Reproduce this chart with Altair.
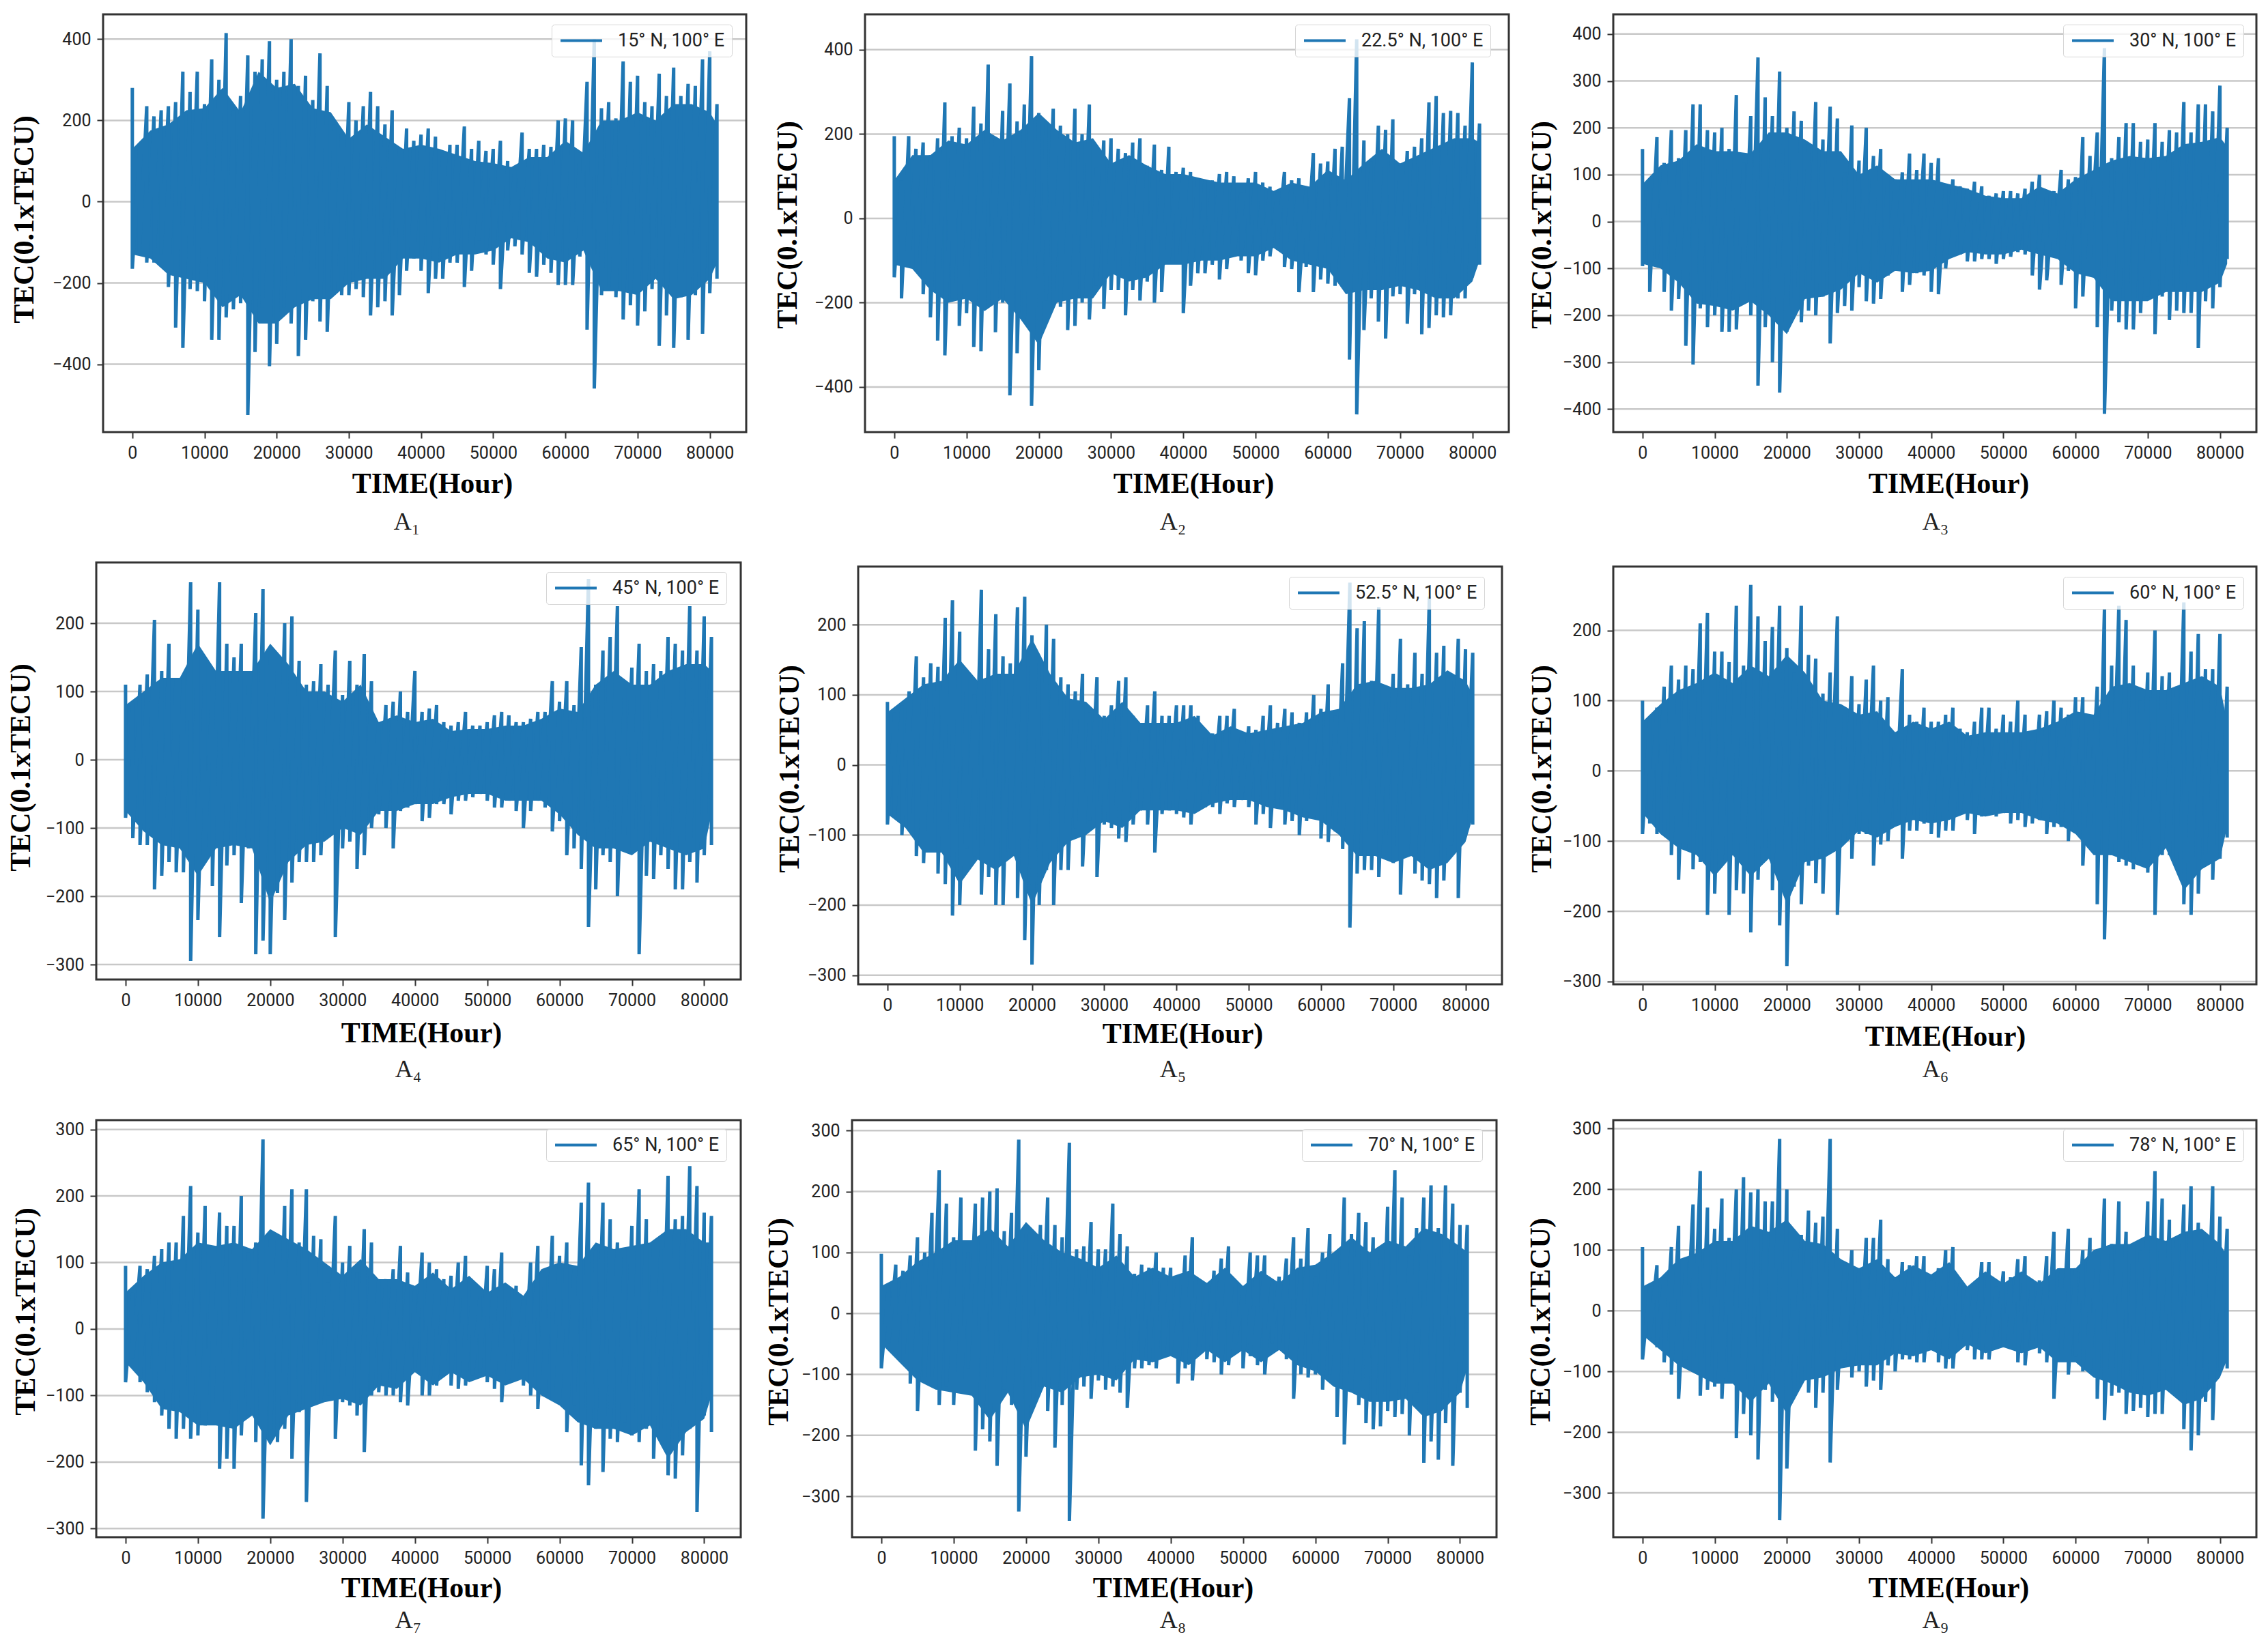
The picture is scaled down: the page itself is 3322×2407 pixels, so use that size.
import altair as alt
import pandas as pd

LABELS = ["15° N, 100° E", "22.5° N, 100° E", "30° N, 100° E", "45° N, 100° E", "52.5° N, 100° E",
          "60° N, 100° E", "65° N, 100° E", "70° N, 100° E", "78° N, 100° E"]
CAPTIONS = ["A₁", "A₂", "A₃", "A₄", "A₅", "A₆", "A₇", "A₈", "A₉"]
X_TICKS = [0, 10000, 20000, 30000, 40000, 50000, 60000, 70000, 80000]
Y_TICKS = [
    [-400, -200, 0, 200, 400], [-400, -200, 0, 200, 400],
    [-400, -300, -200, -100, 0, 100, 200, 300, 400],
    [-300, -200, -100, 0, 100, 200], [-300, -200, -100, 0, 100, 200], [-300, -200, -100, 0, 100, 200],
    [-300, -200, -100, 0, 100, 200, 300], [-300, -200, -100, 0, 100, 200, 300], [-300, -200, -100, 0, 100, 200, 300],
]
Y_DOMAIN = [(-567, 461), (-507, 484), (-449, 442), (-322, 289), (-313, 283), (-304, 291), (-313, 314), (-367, 317), (-373, 314)]
X_DOMAIN = (-4050, 85050)

# upper and lower envelope read every 1000 hours (0 .. 81000)
UP = [
 [280,130,235,210,225,235,245,320,270,320,240,350,300,415,225,260,360,320,350,395,300,320,400,285,310,250,365,285,190,165,245,200,235,270,235,190,225,130,180,150,165,180,160,110,140,140,185,130,150,125,130,150,100,80,170,130,130,140,135,200,205,200,120,295,400,230,245,205,345,295,310,245,235,315,260,330,260,290,285,350,370,240],
 [195,90,195,165,180,150,190,275,195,215,190,265,225,365,190,255,320,230,270,385,250,230,260,220,200,260,200,270,120,185,190,165,155,180,190,125,175,115,170,110,120,110,95,90,90,105,110,100,60,95,110,85,75,60,110,90,95,70,155,130,135,165,170,285,425,185,135,220,210,235,130,160,170,190,275,290,250,255,250,220,370,225],
 [155,80,180,125,195,135,195,250,250,195,190,200,155,270,125,225,350,265,225,320,200,235,215,165,255,175,245,220,105,205,130,200,140,155,100,90,105,145,110,145,125,135,80,90,75,70,85,75,55,60,65,65,60,70,85,100,60,65,110,90,95,180,140,190,370,135,180,210,210,170,175,210,170,195,190,255,190,250,250,235,290,200],
 [110,85,110,125,205,130,170,120,125,260,220,145,110,260,170,150,170,110,215,250,150,130,200,210,145,110,115,140,110,160,95,145,110,155,115,55,80,85,100,70,130,70,75,80,55,50,55,70,50,50,55,65,70,65,55,55,60,70,70,115,85,115,80,165,265,110,160,180,225,105,135,170,130,140,130,180,170,160,225,160,210,180],
 [90,75,85,105,155,125,145,140,210,235,190,130,100,250,165,215,155,145,225,240,185,145,200,180,125,115,105,130,75,125,70,85,120,125,70,55,85,105,70,70,85,85,85,70,40,45,70,70,80,40,55,50,70,85,60,80,75,60,75,100,80,115,70,145,260,195,205,120,225,90,130,180,115,160,130,240,160,170,120,180,165,160],
 [100,75,90,120,150,130,150,145,210,225,170,170,155,235,150,265,220,185,205,235,175,140,235,165,160,110,140,220,90,135,95,130,150,100,105,55,145,80,70,90,70,70,80,90,60,55,70,90,90,60,80,70,100,80,45,80,85,100,90,80,105,105,70,120,230,150,235,215,150,100,140,200,135,140,120,240,170,195,145,145,195,120],
 [95,55,95,90,110,120,130,130,170,215,145,185,95,175,155,155,200,115,130,285,135,135,185,210,130,210,140,135,70,170,100,125,85,150,130,75,75,90,125,85,60,115,100,90,75,80,100,110,60,50,95,90,115,60,65,45,100,125,80,140,110,130,90,190,220,120,190,165,130,120,155,210,165,130,120,230,165,170,245,215,175,170],
 [98,45,80,70,95,125,100,165,235,180,125,190,100,180,190,200,205,135,165,285,130,100,145,190,145,125,280,105,110,150,105,105,180,130,110,65,80,75,100,75,75,60,95,125,55,50,70,90,110,50,40,100,95,95,50,60,90,125,90,140,60,100,130,100,190,130,165,150,125,90,175,235,190,95,140,190,210,140,210,180,145,145],
 [105,40,75,55,105,140,80,175,230,170,135,185,120,200,220,195,200,180,180,283,200,100,125,165,145,155,283,135,75,100,70,120,120,150,85,55,80,75,90,90,50,70,100,105,45,35,45,80,80,40,65,55,85,90,50,50,90,130,70,135,70,100,120,95,185,110,180,130,110,100,180,230,185,150,120,175,205,145,120,205,155,135],
]
LO = [
 [-165,-120,-150,-150,-130,-210,-310,-360,-215,-220,-245,-340,-340,-285,-265,-250,-525,-370,-260,-405,-350,-260,-300,-380,-340,-245,-295,-320,-220,-230,-230,-215,-235,-280,-260,-245,-280,-230,-170,-140,-170,-225,-190,-190,-150,-150,-210,-170,-95,-130,-155,-215,-120,-110,-130,-175,-185,-155,-175,-205,-205,-205,-135,-315,-460,-230,-210,-235,-290,-255,-305,-270,-215,-355,-280,-360,-235,-340,-230,-325,-225,-190],
 [-140,-190,-115,-120,-180,-235,-290,-325,-190,-255,-225,-305,-315,-210,-270,-200,-420,-320,-240,-445,-360,-195,-205,-210,-265,-255,-200,-240,-160,-215,-170,-170,-230,-170,-195,-150,-200,-175,-100,-105,-225,-160,-130,-130,-110,-145,-120,-90,-100,-130,-135,-100,-90,-60,-115,-120,-175,-115,-175,-145,-155,-160,-120,-335,-465,-265,-190,-245,-285,-185,-180,-250,-180,-275,-260,-230,-235,-230,-190,-190,-140,-110],
 [-95,-150,-80,-150,-190,-165,-265,-305,-185,-225,-200,-235,-235,-230,-145,-200,-350,-225,-300,-365,-235,-165,-215,-190,-200,-160,-260,-195,-180,-190,-140,-170,-175,-165,-115,-105,-150,-135,-110,-115,-150,-155,-100,-70,-70,-85,-85,-80,-80,-90,-80,-75,-65,-70,-115,-145,-125,-70,-135,-105,-185,-160,-80,-225,-410,-190,-215,-230,-230,-195,-160,-240,-160,-210,-190,-195,-195,-270,-170,-185,-140,-80],
 [-85,-115,-125,-125,-190,-170,-150,-165,-165,-295,-235,-130,-185,-260,-155,-140,-210,-130,-285,-265,-285,-195,-235,-180,-150,-150,-150,-140,-90,-260,-130,-120,-160,-140,-100,-80,-100,-130,-75,-70,-65,-90,-85,-65,-65,-80,-60,-60,-55,-50,-60,-70,-70,-60,-75,-100,-75,-60,-70,-105,-90,-140,-130,-160,-245,-190,-140,-150,-200,-110,-130,-285,-170,-175,-140,-160,-190,-190,-150,-180,-140,-125],
 [-85,-75,-100,-90,-130,-140,-110,-155,-170,-215,-200,-120,-130,-185,-160,-200,-200,-120,-190,-250,-285,-200,-150,-200,-150,-150,-90,-145,-80,-160,-85,-90,-105,-110,-85,-65,-85,-125,-70,-65,-70,-75,-85,-65,-60,-60,-70,-55,-60,-50,-60,-85,-70,-90,-60,-85,-80,-100,-80,-75,-105,-110,-95,-120,-232,-155,-150,-150,-160,-100,-140,-185,-130,-155,-165,-170,-190,-165,-115,-190,-85,-85],
 [-90,-75,-90,-90,-120,-155,-110,-140,-130,-205,-175,-130,-205,-170,-175,-230,-155,-110,-170,-220,-278,-165,-190,-135,-160,-175,-100,-205,-100,-125,-90,-90,-135,-105,-100,-70,-125,-85,-85,-75,-90,-95,-85,-85,-60,-70,-90,-65,-60,-65,-60,-75,-70,-80,-75,-70,-90,-80,-80,-100,-80,-135,-80,-190,-240,-120,-130,-135,-140,-115,-145,-205,-120,-120,-125,-190,-205,-175,-120,-155,-125,-95],
 [-80,-45,-80,-95,-110,-130,-150,-165,-150,-165,-160,-145,-125,-210,-195,-210,-160,-130,-170,-285,-170,-170,-150,-195,-125,-260,-110,-110,-100,-165,-110,-115,-130,-185,-100,-95,-100,-100,-110,-115,-60,-100,-100,-85,-70,-85,-90,-85,-70,-65,-80,-90,-110,-75,-60,-85,-100,-120,-100,-105,-110,-155,-115,-205,-235,-150,-215,-165,-170,-140,-160,-170,-150,-195,-150,-220,-225,-190,-150,-275,-130,-155],
 [-90,-50,-70,-80,-115,-160,-105,-105,-150,-120,-150,-130,-90,-225,-190,-210,-250,-125,-150,-325,-235,-140,-120,-160,-220,-150,-340,-125,-120,-140,-110,-125,-120,-130,-155,-90,-90,-85,-90,-70,-65,-115,-90,-110,-55,-75,-80,-100,-85,-50,-90,-70,-85,-100,-50,-60,-75,-140,-100,-105,-100,-125,-100,-170,-215,-125,-150,-180,-190,-185,-160,-170,-165,-200,-130,-245,-210,-240,-180,-250,-130,-155],
 [-80,-45,-60,-85,-105,-145,-80,-100,-140,-130,-125,-145,-100,-210,-170,-205,-245,-130,-150,-345,-260,-140,-120,-135,-160,-135,-250,-130,-80,-110,-100,-125,-115,-130,-90,-100,-80,-80,-85,-85,-65,-85,-95,-95,-50,-65,-80,-80,-80,-50,-60,-60,-85,-90,-50,-70,-85,-145,-75,-105,-75,-100,-100,-145,-180,-140,-135,-170,-165,-160,-175,-170,-170,-130,-130,-195,-230,-205,-150,-180,-100,-95],
]
# solid band read at these hours
CORE_X = [0,2500,5000,7500,10000,12500,15000,17500,20000,22500,25000,27500,30000,32500,35000,37500,40000,42500,45000,47500,50000,52500,55000,57500,60000,62500,65000,67500,70000,72500,75000,77500,80000,81000]
CORE_HI = [
 [130,175,190,225,230,280,220,320,280,290,230,220,155,190,160,130,140,130,115,100,95,85,110,110,150,120,200,200,220,200,240,240,220,190],
 [90,150,150,185,175,210,185,210,250,210,180,190,130,150,125,105,105,95,85,85,85,65,85,75,115,90,130,165,130,150,170,190,190,180],
 [80,120,130,165,150,150,145,190,190,175,150,150,100,120,90,90,90,80,70,55,50,50,75,60,90,110,130,140,135,140,165,170,180,160],
 [80,100,120,120,170,130,130,130,170,140,100,100,85,110,55,65,55,60,42,45,45,50,50,60,75,70,110,130,110,110,130,140,140,130],
 [75,95,115,120,150,120,130,130,180,130,95,90,65,90,60,60,60,70,42,55,45,50,55,60,75,80,115,120,110,110,115,135,120,100],
 [70,95,115,125,140,125,150,135,165,140,100,95,80,85,55,70,60,70,50,55,55,55,60,70,85,80,120,125,115,115,125,135,120,70],
 [55,80,100,105,130,125,130,120,150,135,120,100,80,105,75,75,65,85,60,80,55,70,50,90,100,95,130,120,125,130,150,150,130,130],
 [45,60,85,100,120,120,140,110,150,120,100,90,75,95,60,75,60,70,50,75,45,70,50,75,80,100,125,100,120,110,140,130,110,100],
 [40,55,85,95,115,115,140,130,150,115,110,85,70,85,55,75,60,80,40,65,45,65,45,70,70,100,110,110,125,115,130,135,110,90],
]
CORE_LO = [
 [-130,-140,-180,-190,-200,-260,-230,-300,-300,-260,-240,-240,-200,-190,-190,-140,-140,-150,-130,-130,-120,-90,-100,-140,-150,-120,-220,-220,-230,-190,-240,-230,-190,-150],
 [-110,-120,-170,-200,-190,-220,-190,-240,-300,-200,-190,-190,-130,-150,-140,-110,-110,-100,-100,-90,-90,-70,-100,-110,-120,-180,-170,-170,-160,-170,-190,-190,-150,-100],
 [-90,-100,-130,-175,-180,-190,-170,-200,-240,-165,-160,-145,-110,-130,-105,-110,-105,-80,-65,-70,-70,-60,-70,-80,-110,-120,-170,-170,-170,-150,-150,-150,-130,-90],
 [-75,-105,-125,-130,-170,-130,-125,-130,-210,-150,-125,-120,-100,-110,-75,-75,-65,-65,-55,-50,-50,-60,-60,-60,-80,-110,-130,-130,-140,-120,-130,-140,-130,-80],
 [-70,-90,-125,-125,-170,-135,-150,-130,-200,-140,-110,-100,-80,-90,-65,-65,-65,-70,-55,-50,-50,-60,-65,-75,-80,-100,-130,-130,-140,-130,-150,-140,-110,-75],
 [-60,-90,-110,-120,-150,-120,-150,-125,-190,-130,-125,-110,-85,-95,-80,-70,-75,-70,-60,-65,-60,-60,-70,-75,-90,-120,-120,-130,-140,-110,-170,-140,-125,-80],
 [-50,-80,-120,-125,-145,-145,-150,-130,-175,-130,-120,-110,-105,-115,-85,-90,-65,-85,-65,-80,-70,-85,-75,-100,-115,-140,-150,-150,-160,-145,-195,-155,-135,-100],
 [-50,-80,-110,-125,-130,-135,-175,-130,-190,-120,-130,-105,-100,-110,-75,-80,-70,-85,-60,-80,-60,-80,-60,-85,-95,-120,-130,-145,-145,-140,-170,-160,-130,-90],
 [-40,-65,-90,-105,-120,-120,-150,-120,-170,-115,-110,-95,-90,-90,-70,-75,-65,-80,-55,-70,-60,-70,-60,-85,-85,-110,-120,-135,-140,-130,-155,-145,-110,-80],
]

# layout in page pixels: plot left, right, top, bottom
PLOT = [(151,1093,21,633),(1267,2210,21,633),(2363,3305,21,633),
        (141,1085,824,1435),(1257,2200,830,1442),(2363,3305,830,1442),
        (141,1085,1641,2252),(1248,2192,1641,2252),(2363,3305,1641,2252)]
XTITLE = [(633,708),(1748,708),(2854,708),(617,1513),(1732,1514),(2849,1518),(617,2326),(1718,2326),(2854,2326)]
YTITLE = [(35,321),(1153,329),(2258,329),(30,1124),(1156,1126),(2258,1126),(37,1921),(1140,1936),(2256,1936)]
CAPTION = [(596,765),(1718,765),(2835,765),(598,1567),(1718,1567),(2835,1567),(598,2374),(1718,2374),(2835,2374)]
LEGEND = [(808,36),(1897,36),(3022,36),(800,838),(1888,845),(3022,845),(800,1654),(1907,1654),(3022,1654)]
CELL_W, CELL_H = 1102, 795
COL_X = [8, 1110, 2212]
ROW_Y = [8, 803, 1598]
BLUE = "#1f77b4"
TICK_FONT = "Roboto"


def panel(i):
    cx, cy = COL_X[i % 3], ROW_Y[i // 3]
    l, r, t, b = PLOT[i]
    xs = alt.Scale(domain=list(X_DOMAIN), range=[l - cx, r - cx], nice=False, zero=False)
    ys = alt.Scale(domain=list(Y_DOMAIN[i]), range=[b - cy, t - cy], nice=False, zero=False)

    rows = []
    for k, (u, d) in enumerate(zip(UP[i], LO[i])):
        rows.append({"x": k * 1000, "y": u, "i": 2 * k, "label": LABELS[i]})
        rows.append({"x": k * 1000, "y": d, "i": 2 * k + 1, "label": LABELS[i]})
    line_df = pd.DataFrame(rows)
    core_df = pd.DataFrame({"x": CORE_X, "hi": CORE_HI[i], "lo": CORE_LO[i]})
    grid_df = pd.DataFrame({"v": Y_TICKS[i], "a": X_DOMAIN[0], "b": X_DOMAIN[1]})
    frame_df = pd.DataFrame({"a": [X_DOMAIN[0]], "b": [X_DOMAIN[1]], "c": [Y_DOMAIN[i][0]], "d": [Y_DOMAIN[i][1]]})

    common = dict(labelFont=TICK_FONT, labelFontSize=25, labelColor="#222222", tickColor="#333333",
                  tickWidth=2, tickSize=9, labelPadding=9, domain=False, grid=False,
                  titleFont="Liberation Serif", titleFontWeight="bold", titleFontSize=42, titleColor="#000000",
                  titleAlign="center", titleBaseline="middle")
    x_axis = alt.Axis(values=X_TICKS, format="d", title="TIME(Hour)", orient="bottom",
                      offset=-(CELL_H - (b - cy)), titleX=XTITLE[i][0] - cx, titleY=XTITLE[i][1] - b, **common)
    y_axis = alt.Axis(values=Y_TICKS[i], title="TEC(0.1xTECU)", orient="left",
                      offset=-(l - cx), titleAngle=270, titleX=YTITLE[i][0] - l, titleY=YTITLE[i][1] - cy, **common)

    grid = alt.Chart(grid_df).mark_rule(color="#c8c8c8", strokeWidth=2.5).encode(
        x=alt.X("a:Q", scale=xs, axis=x_axis), x2="b:Q", y=alt.Y("v:Q", scale=ys, axis=y_axis))
    core = alt.Chart(core_df).mark_area(color=BLUE, opacity=1).encode(
        x=alt.X("x:Q", scale=xs, axis=x_axis), y=alt.Y("hi:Q", scale=ys, axis=y_axis), y2="lo:Q")
    legend = alt.Legend(orient="none", legendX=LEGEND[i][0] - cx, legendY=LEGEND[i][1] - cy, title=None,
                        labelFont=TICK_FONT, labelFontSize=27, labelColor="#222222", labelLimit=400,
                        symbolType="M-3,0L3,0",
                        symbolSize=413, symbolStrokeWidth=4, symbolOffset=20, labelOffset=40, padding=10,
                        fillColor="rgba(255,255,255,0.8)", strokeColor="#d5d5d5", cornerRadius=4)
    line = alt.Chart(line_df).mark_line(strokeWidth=5, strokeJoin="bevel").encode(
        x=alt.X("x:Q", scale=xs, axis=x_axis), y=alt.Y("y:Q", scale=ys, axis=y_axis), order="i:Q",
        color=alt.Color("label:N", scale=alt.Scale(domain=[LABELS[i]], range=[BLUE]), legend=legend))
    frame = alt.Chart(frame_df).mark_rect(filled=False, stroke="#333333", strokeWidth=3).encode(
        x=alt.X("a:Q", scale=xs, axis=x_axis), x2="b:Q", y=alt.Y("c:Q", scale=ys, axis=y_axis), y2="d:Q")
    caption = alt.Chart(pd.DataFrame({"t": [CAPTIONS[i]]})).mark_text(
        font="Liberation Serif", fontSize=36, color="#222222", align="center", baseline="middle").encode(
        text="t:N", x=alt.value(CAPTION[i][0] - cx), y=alt.value(CAPTION[i][1] - cy))
    return alt.layer(grid, core, line, frame, caption).properties(width=CELL_W, height=CELL_H)


chart = (
    alt.concat(*[panel(i) for i in range(9)], columns=3, spacing=0, bounds="flush")
    .resolve_scale(color="independent")
    .resolve_legend(color="independent")
    .properties(padding=0)
    .configure_view(stroke=None)
)
chart.save("out.html", embed_options={"renderer": "svg", "actions": False})
